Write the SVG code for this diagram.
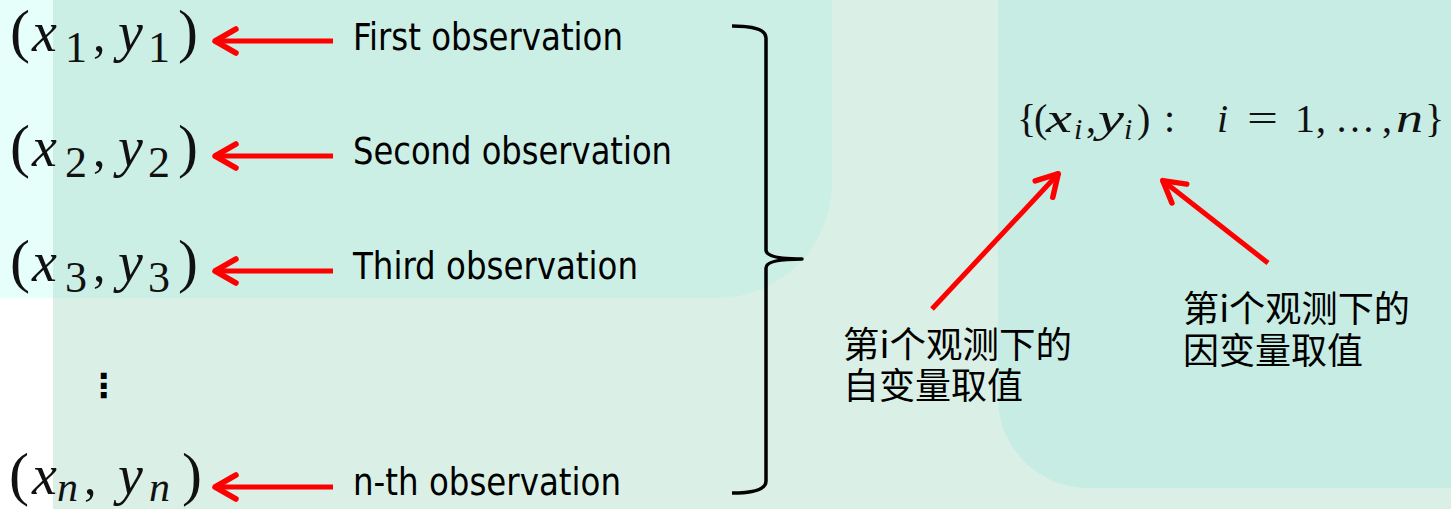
<svg xmlns="http://www.w3.org/2000/svg" width="1451" height="509" viewBox="0 0 1451 509">
<style>
.lbl{font-family:"DejaVu Sans Condensed","DejaVu Sans",sans-serif;font-stretch:condensed;font-size:37px;fill:#000}
.m{font-family:"Liberation Serif","Times New Roman",serif;fill:#111}
.mi{font-family:"Liberation Serif","Times New Roman",serif;font-style:italic;fill:#111}
.cjk{font-family:"Noto Sans CJK SC","Noto Sans",sans-serif;font-size:36px;fill:#000}
.arr{stroke:#ff0000;stroke-width:5;fill:none;marker-end:url(#ah)}
</style>
<defs>
<marker id="ah" viewBox="-26 -16 30 32" refX="0" refY="0" markerWidth="30" markerHeight="32" markerUnits="userSpaceOnUse" orient="auto" overflow="visible">
<path d="M-22,-12 L-1,0 L-22,12" fill="none" stroke="#ff0000" stroke-width="5.5" stroke-linecap="round" stroke-linejoin="round"/>
</marker>
</defs>
<g id="background">
<rect x="0" y="0" width="1451" height="509" fill="#ffffff"/>
<rect x="53" y="0" width="1398" height="509" fill="#daf0e6"/>
<path d="M0,0 H832 V183 A115,115 0 0 1 717,298 H0 Z" fill="#cbefe4"/>
<rect x="0" y="0" width="53" height="298" fill="#e6fffb"/>
<path d="M998,0 H1451 V488 H1088 A90,90 0 0 1 998,398 Z" fill="#c7ece3"/>
</g>
<g id="pair1">
<text class="m" x="10" y="51" font-size="60">(</text>
<text class="mi" x="32" y="51" font-size="56">x</text>
<text class="m" x="65" y="62" font-size="44">1</text>
<text class="m" x="93" y="51" font-size="50">,</text>
<text class="mi" x="118" y="51" font-size="56">y</text>
<text class="m" x="148" y="62" font-size="44">1</text>
<text class="m" x="178" y="51" font-size="60">)</text>
</g>
<g id="pair2">
<text class="m" x="10" y="166" font-size="60">(</text>
<text class="mi" x="32" y="166" font-size="56">x</text>
<text class="m" x="65" y="177" font-size="44">2</text>
<text class="m" x="93" y="166" font-size="50">,</text>
<text class="mi" x="118" y="166" font-size="56">y</text>
<text class="m" x="148" y="177" font-size="44">2</text>
<text class="m" x="178" y="166" font-size="60">)</text>
</g>
<g id="pair3">
<text class="m" x="10" y="281" font-size="60">(</text>
<text class="mi" x="32" y="281" font-size="56">x</text>
<text class="m" x="65" y="292" font-size="44">3</text>
<text class="m" x="93" y="281" font-size="50">,</text>
<text class="mi" x="118" y="281" font-size="56">y</text>
<text class="m" x="148" y="292" font-size="44">3</text>
<text class="m" x="178" y="281" font-size="60">)</text>
</g>
<g id="vdots">
<text x="87" y="397" font-family="DejaVu Sans,sans-serif" font-weight="bold" font-size="33" fill="#000">⋮</text>
</g>
<g id="pairn">
<text class="m" x="9" y="494" font-size="60">(</text>
<text class="mi" x="32" y="494" font-size="56">x</text>
<text class="mi" x="57" y="501" font-size="42">n</text>
<text class="m" x="84" y="494" font-size="50">,</text>
<text class="mi" x="118" y="494" font-size="56">y</text>
<text class="mi" x="149" y="501" font-size="42">n</text>
<text class="m" x="182" y="494" font-size="60">)</text>
</g>
<g id="labels">
<text class="lbl" x="353" y="50" textLength="270" lengthAdjust="spacingAndGlyphs">First observation</text>
<text class="lbl" x="353" y="164" textLength="319" lengthAdjust="spacingAndGlyphs">Second observation</text>
<text class="lbl" x="353" y="279" textLength="285" lengthAdjust="spacingAndGlyphs">Third observation</text>
<text class="lbl" x="353" y="495" textLength="268" lengthAdjust="spacingAndGlyphs">n-th observation</text>
</g>
<g id="brace">
<path d="M732,26 Q766,26 766,38 L766,250 Q766,259 802,259 Q766,259 766,268 L766,481 Q766,493 732,493" fill="none" stroke="#000" stroke-width="3.5" stroke-linejoin="round"/>
</g>
<g id="setformula">
<text class="m" x="1017" y="132" font-size="40">{</text>
<text class="m" x="1034" y="132" font-size="40">(</text>
<text class="mi" x="1046" y="132" font-size="40" textLength="26" lengthAdjust="spacingAndGlyphs">x</text>
<text class="mi" x="1074" y="139" font-size="30">i</text>
<text class="m" x="1086" y="132" font-size="40">,</text>
<text class="mi" x="1098" y="132" font-size="40" textLength="26" lengthAdjust="spacingAndGlyphs">y</text>
<text class="mi" x="1124" y="139" font-size="30">i</text>
<text class="m" x="1137" y="132" font-size="40">)</text>
<text class="m" x="1164" y="132" font-size="40">:</text>
<text class="mi" x="1217" y="132" font-size="40">i</text>
<text class="m" x="1247" y="132" font-size="40" textLength="31" lengthAdjust="spacingAndGlyphs">=</text>
<text class="m" x="1295" y="132" font-size="40">1</text>
<text class="m" x="1316" y="132" font-size="40">,</text>
<text class="m" x="1335" y="132" font-size="40">…</text>
<text class="m" x="1382" y="132" font-size="40">,</text>
<text class="mi" x="1396" y="132" font-size="40" textLength="27" lengthAdjust="spacingAndGlyphs">n</text>
<text class="m" x="1425" y="132" font-size="40">}</text>
</g>
<g id="note-x">
<text class="cjk" x="843" y="358" textLength="229" lengthAdjust="spacingAndGlyphs">第i个观测下的</text>
<text class="cjk" x="843" y="399">自变量取值</text>
</g>
<g id="note-y">
<text class="cjk" x="1183" y="322" textLength="227" lengthAdjust="spacingAndGlyphs">第i个观测下的</text>
<text class="cjk" x="1183" y="364">因变量取值</text>
</g>
<g id="connectors">
<line class="arr" x1="333" y1="41" x2="214" y2="41"/>
<line class="arr" x1="333" y1="156" x2="214" y2="156"/>
<line class="arr" x1="333" y1="271" x2="214" y2="271"/>
<line class="arr" x1="333" y1="487" x2="214" y2="487"/>
<line class="arr" x1="932" y1="309" x2="1059" y2="173"/>
<line class="arr" x1="1268" y1="263" x2="1162" y2="180"/>
</g>
</svg>
